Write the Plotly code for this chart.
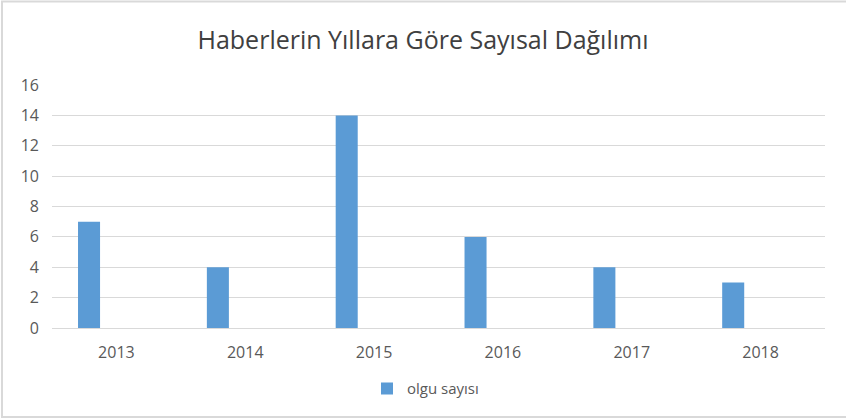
import plotly.graph_objects as go

years = ["2013", "2014", "2015", "2016", "2017", "2018"]
olgu_sayisi = [7, 4, 14, 6, 4, 3]
y_ticks = [0, 2, 4, 6, 8, 10, 12, 14, 16]

font_family = "Open Sans, sans-serif"
text_color = "#595959"
grid_color = "#d9d9d9"

fig = go.Figure()

fig.add_trace(
    go.Bar(
        x=years,
        y=olgu_sayisi,
        name="olgu sayısı",
        width=0.171,
        offset=-0.298,
        marker=dict(color="#5b9bd5", line=dict(width=0)),
    )
)

fig.update_layout(
    width=846,
    height=419,
    margin=dict(l=52, r=21, t=85, b=91),
    plot_bgcolor="white",
    paper_bgcolor="white",
    font=dict(family=font_family, size=16, color=text_color),
    title=dict(
        text="Haberlerin Yıllara Göre Sayısal Dağılımı",
        x=0.5,
        xanchor="center",
        y=0.905,
        yanchor="middle",
        font=dict(size=25, color="#404040"),
    ),
    xaxis=dict(
        type="category",
        range=[-0.5, 5.5],
        showgrid=False,
        showline=True,
        linecolor=grid_color,
        linewidth=1,
        ticks="",
        ticklabelstandoff=10,
    ),
    yaxis=dict(
        range=[0, 16],
        tickvals=y_ticks,
        showgrid=True,
        gridcolor=grid_color,
        gridwidth=1,
        zeroline=False,
        ticks="",
        ticklabelstandoff=12,
    ),
    showlegend=True,
    legend=dict(
        orientation="h",
        x=0.4075,
        xanchor="left",
        y=-0.25,
        yanchor="middle",
        font=dict(size=15),
    ),
    shapes=[
        dict(
            type="rect",
            xref="paper",
            yref="paper",
            x0=-0.0647,
            x1=1.032,
            y0=-0.366,
            y1=1.3436,
            line=dict(color=grid_color, width=2),
        )
    ],
)

# drop the default body margin so the chart sits at the page's top-left corner
fig.write_html(
    "out.html",
    config={"displayModeBar": False},
    post_script="document.body.style.margin = '0';",
)
